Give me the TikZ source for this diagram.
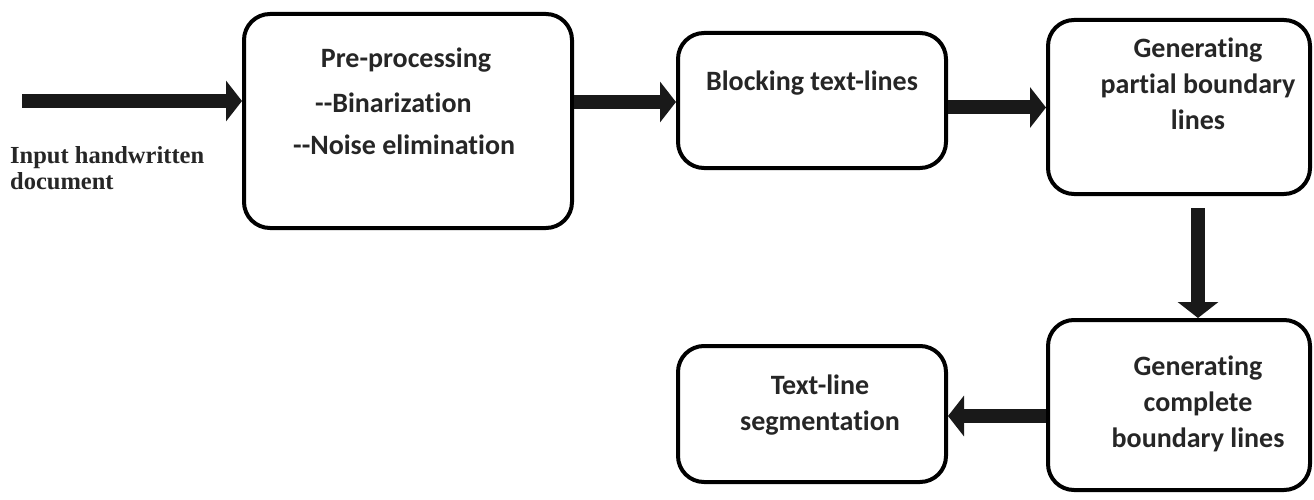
\documentclass[tikz,border=0pt]{standalone}
\usepackage{fontspec}
\setmainfont{Carlito}[Ligatures={TeX,NoCommon}]
\newfontfamily\serifbold{Liberation Serif}
\usetikzlibrary{arrows.meta}
\tikzset{
  stagebox/.style={draw=black, line width=4pt, rounded corners=26pt, fill=white, inner sep=0pt},
  boxtext/.style={font=\fontsize{28}{36}\selectfont\bfseries, text=black!85, inner sep=0pt, align=center},
  inputtext/.style={font=\serifbold\fontsize{24.5}{26}\selectfont\bfseries, text=black!85, inner sep=0pt, align=left, anchor=north west},
  bigarrow/.style={draw=black!90, line width=14pt, -{Triangle[length=16pt,width=40pt]}}
}
\begin{document}
\begin{tikzpicture}[x=1pt,y=-1pt]
\useasboundingbox (0,0) rectangle (1314,500);
% boxes
\node[stagebox, minimum width=328pt, minimum height=214pt] (pre) at (408,121) {};
\node[stagebox, minimum width=268pt, minimum height=135pt] (block) at (812,100.5) {};
\node[stagebox, minimum width=262pt, minimum height=174pt] (partial) at (1179,107) {};
\node[stagebox, minimum width=262pt, minimum height=170pt] (complete) at (1179,405) {};
\node[stagebox, minimum width=268pt, minimum height=136pt] (seg) at (812,414) {};
% texts
\node[boxtext] (t1) at (406,60) {Pre-processing};
\node[boxtext, anchor=west] (t2) at (315,103) {-{}-Binarization};
\node[boxtext, anchor=west] (t3) at (293,145) {-{}-Noise elimination};
\node[boxtext] (t4) at (812,83) {Blocking text-lines};
\node[boxtext] (t5) at (1198,84) {Generating\\partial boundary\\lines};
\node[boxtext] (t6) at (1198,404) {Generating\\complete\\boundary lines};
\node[boxtext] (t7) at (820,405) {Text-line\\segmentation};
\node[inputtext] (t8) at (10,146) {Input handwritten\\document};
% arrows
\coordinate (in) at (22,101);
\draw[bigarrow] (in) -- (in -| pre.west);
\draw[bigarrow] ([yshift=19pt]pre.east) -- ([yshift=19pt]pre.east -| block.west);
\draw[bigarrow] ([yshift=-7pt]block.east) -- ([yshift=-7pt]block.east -| partial.west);
\draw[bigarrow] ([xshift=19pt,yshift=-12pt]partial.south) -- ([xshift=19pt]complete.north);
\draw[bigarrow] ([yshift=-11pt]complete.west) -- ([yshift=-11pt]complete.west -| seg.east);
\end{tikzpicture}
\end{document}
